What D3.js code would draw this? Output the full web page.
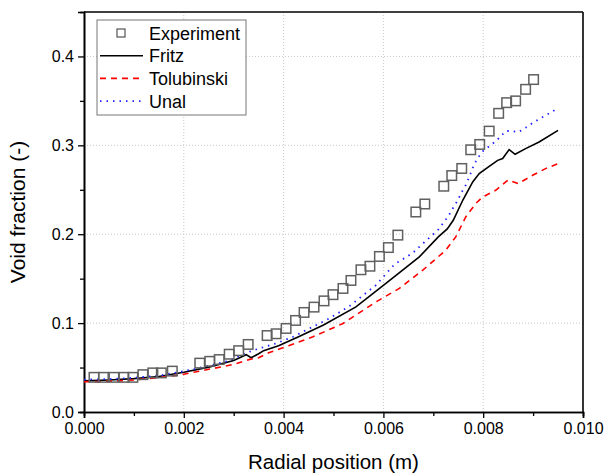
<!DOCTYPE html>
<html>
<head>
<meta charset="utf-8">
<script src="https://cdn.jsdelivr.net/npm/d3@7"></script>
<style>
  body { margin: 0; background: #fff; }
  svg { font-family: "Liberation Sans", Arial, sans-serif; }
</style>
</head>
<body>
<div id="chart"></div>
<script>
// experiment: radial position (m) / void fraction (-)
const expX = [0.00020, 0.00039, 0.00060, 0.00080, 0.00098, 0.00118, 0.00138, 0.00155, 0.00177,
  0.00232, 0.00252, 0.00271, 0.00291, 0.00310, 0.00329, 0.00367, 0.00385, 0.00405, 0.00424,
  0.00441, 0.00461, 0.00481, 0.00499, 0.00519, 0.00535, 0.00555, 0.00573, 0.00592, 0.00610,
  0.00629, 0.00665, 0.00683, 0.00721, 0.00737, 0.00757, 0.00775, 0.00793, 0.00812, 0.00831,
  0.00847, 0.00865, 0.00885, 0.00901];
const expY = [0.039, 0.039, 0.039, 0.039, 0.039, 0.042, 0.044, 0.044, 0.046,
  0.055, 0.057, 0.059, 0.065, 0.069, 0.076, 0.086, 0.088, 0.094, 0.103,
  0.112, 0.118, 0.125, 0.132, 0.139, 0.148, 0.160, 0.164, 0.175, 0.185,
  0.199, 0.225, 0.234, 0.254, 0.266, 0.274, 0.295, 0.301, 0.316, 0.336,
  0.348, 0.350, 0.363, 0.374];

const fritzX = [0, 0.0005, 0.001, 0.0015, 0.002, 0.0025, 0.003, 0.00325, 0.00335, 0.0035, 0.0036,
  0.0039, 0.0043, 0.0048, 0.00545, 0.00605, 0.00672, 0.0071, 0.00728, 0.0074, 0.00759, 0.00779,
  0.00792, 0.00812, 0.00829, 0.00839, 0.00852, 0.00864, 0.00885, 0.00912, 0.0095];
const fritzY = [0.035, 0.036, 0.0375, 0.040, 0.0448, 0.0505, 0.058, 0.0645, 0.061, 0.0655, 0.069,
  0.0745, 0.0846, 0.0978, 0.1183, 0.1446, 0.1745, 0.197, 0.206, 0.2157, 0.2382, 0.2588,
  0.2682, 0.2764, 0.2831, 0.2851, 0.2952, 0.2899, 0.2963, 0.3037, 0.3169];

const tolX = [0, 0.0005, 0.001, 0.0015, 0.002, 0.0025, 0.003, 0.00332, 0.0035, 0.0037, 0.0041,
  0.00459, 0.00519, 0.00585, 0.00632, 0.00679, 0.00725, 0.00745, 0.00765, 0.00785, 0.00799,
  0.00825, 0.0085, 0.0087, 0.00899, 0.00925, 0.0095];
const tolY = [0.034, 0.0345, 0.036, 0.0385, 0.0425, 0.048, 0.0535, 0.0592, 0.061, 0.0666, 0.0745,
  0.0846, 0.0996, 0.1239, 0.139, 0.1596, 0.182, 0.197, 0.2194, 0.2345, 0.2419,
  0.2494, 0.261, 0.257, 0.2663, 0.2738, 0.2794];

const unalX = [0, 0.0005, 0.001, 0.0015, 0.002, 0.0025, 0.0029, 0.00325, 0.00352, 0.00385, 0.00419,
  0.00445, 0.00492, 0.00532, 0.00585, 0.00622, 0.00659, 0.00685, 0.00709, 0.00729, 0.00739,
  0.00749, 0.00757, 0.00765, 0.00772, 0.00781, 0.00789, 0.00799, 0.00812, 0.00825, 0.00835,
  0.00845, 0.00857, 0.00871, 0.00885, 0.00899, 0.00913, 0.00929, 0.0095];
const unalY = [0.0365, 0.037, 0.0385, 0.041, 0.0458, 0.052, 0.0575, 0.0666, 0.0716, 0.0772, 0.0846,
  0.0921, 0.1053, 0.1191, 0.1427, 0.166, 0.179, 0.1925, 0.2045, 0.2194, 0.2289,
  0.2382, 0.2475, 0.2551, 0.2644, 0.2775, 0.2857, 0.2933, 0.2989, 0.3045, 0.3101,
  0.3161, 0.3161, 0.3149, 0.3199, 0.3251, 0.330, 0.3348, 0.342];

const xTicks = [0, 0.002, 0.004, 0.006, 0.008, 0.010];
const yTicks = [0, 0.1, 0.2, 0.3, 0.4];
const legendNames = ['Experiment', 'Fritz', 'Tolubinski', 'Unal'];

const margin = {top: 12, right: 23, bottom: 63, left: 84};
const width = 606 - margin.left - margin.right;
const height = 475 - margin.top - margin.bottom;

const svg = d3.select('#chart')
  .append('svg')
  .attr('width', 606)
  .attr('height', 475)
  .append('g')
  .attr('transform', `translate(${margin.left},${margin.top})`);

const x = d3.scaleLinear().domain([0, 0.01]).range([0, width]);
const y = d3.scaleLinear().domain([0, 0.45]).range([height, 0]);

// grid
svg.append('g')
  .selectAll('line')
  .data(xTicks.slice(1, -1))
  .enter().append('line')
  .attr('x1', d => x(d)).attr('x2', d => x(d))
  .attr('y1', 0).attr('y2', height)
  .attr('stroke', '#c8c8c8')
  .attr('stroke-dasharray', '1,2');

svg.append('g')
  .selectAll('line')
  .data(yTicks.slice(1))
  .enter().append('line')
  .attr('x1', 0).attr('x2', width)
  .attr('y1', d => y(d)).attr('y2', d => y(d))
  .attr('stroke', '#c8c8c8')
  .attr('stroke-dasharray', '1,2');

// minor ticks
const xMinor = d3.axisBottom(x).tickValues(d3.range(0.001, 0.01, 0.002)).tickSize(4).tickFormat('');
const yMinor = d3.axisLeft(y).tickValues([0.05, 0.15, 0.25, 0.35]).tickSize(4).tickFormat('');

svg.append('g').attr('transform', `translate(0,${height})`).call(xMinor);
svg.append('g').call(yMinor);

const xAxis = d3.axisBottom(x).tickValues(xTicks).tickSize(6).tickPadding(5).tickFormat(d3.format('.3f'));
const yAxis = d3.axisLeft(y).tickValues(yTicks).tickSize(6).tickPadding(4).tickFormat(d3.format('.1f'));

svg.append('g')
  .attr('transform', `translate(0,${height})`)
  .call(xAxis)
  .call(g => g.selectAll('text').attr('font-size', 16).attr('fill', '#000'));

svg.append('g')
  .call(yAxis)
  .call(g => g.selectAll('text').attr('font-size', 16).attr('fill', '#000'));

svg.selectAll('.domain').attr('stroke', '#000').attr('stroke-width', 1.6);
svg.selectAll('.tick line').attr('stroke', '#000').attr('stroke-width', 1.3);

// frame top and right
svg.append('line').attr('x1', 0).attr('x2', width).attr('y1', 0).attr('y2', 0)
  .attr('stroke', '#000').attr('stroke-width', 1.6);
svg.append('line').attr('x1', width).attr('x2', width).attr('y1', 0).attr('y2', height)
  .attr('stroke', '#000').attr('stroke-width', 1.6);

svg.append('text')
  .attr('x', width / 2)
  .attr('y', height + 57)
  .attr('text-anchor', 'middle')
  .attr('font-size', 20.5)
  .text('Radial position (m)');

svg.append('text')
  .attr('transform', 'rotate(-90)')
  .attr('x', -height / 2)
  .attr('y', -59)
  .attr('text-anchor', 'middle')
  .attr('font-size', 21)
  .text('Void fraction (-)');

const line = d3.line()
  .x(d => x(d[0]))
  .y(d => y(d[1]));

const series = [
  {xs: fritzX, ys: fritzY, color: '#000', dash: null, w: 1.6},
  {xs: tolX, ys: tolY, color: '#ff0000', dash: '6,5', w: 1.6},
  {xs: unalX, ys: unalY, color: '#2020ff', dash: '1.5,5', w: 1.8}
];

series.forEach(s => {
  svg.append('path')
    .datum(d3.zip(s.xs, s.ys))
    .attr('fill', 'none')
    .attr('stroke', s.color)
    .attr('stroke-width', s.w)
    .attr('stroke-dasharray', s.dash)
    .attr('d', line);
});

const sq = 9.5;
svg.selectAll('rect.exp')
  .data(d3.zip(expX, expY))
  .enter()
  .append('rect')
  .attr('class', 'exp')
  .attr('x', d => x(d[0]) - sq / 2)
  .attr('y', d => y(d[1]) - sq / 2)
  .attr('width', sq)
  .attr('height', sq)
  .attr('fill', 'none')
  .attr('stroke', '#606060')
  .attr('stroke-width', 1.5);

// legend
const legend = svg.append('g').attr('transform', 'translate(13,8)');

legend.append('rect')
  .attr('x', 0).attr('y', 0)
  .attr('width', 149).attr('height', 95)
  .attr('fill', '#fff')
  .attr('stroke', '#777')
  .attr('stroke-width', 1);

legendNames.forEach((name, i) => {
  const cy = 13 + i * 22.7;
  if (i === 0) {
    legend.append('rect')
      .attr('x', 20).attr('y', cy - 4)
      .attr('width', 8).attr('height', 8)
      .attr('fill', 'none')
      .attr('stroke', '#606060')
      .attr('stroke-width', 1.3);
  } else {
    const s = series[i - 1];
    legend.append('line')
      .attr('x1', 3).attr('x2', 46)
      .attr('y1', cy).attr('y2', cy)
      .attr('stroke', s.color)
      .attr('stroke-width', s.w)
      .attr('stroke-dasharray', s.dash);
  }
  legend.append('text')
    .attr('x', 52)
    .attr('y', cy + 6.5)
    .attr('font-size', 18)
    .text(name);
});
</script>
</body>
</html>
